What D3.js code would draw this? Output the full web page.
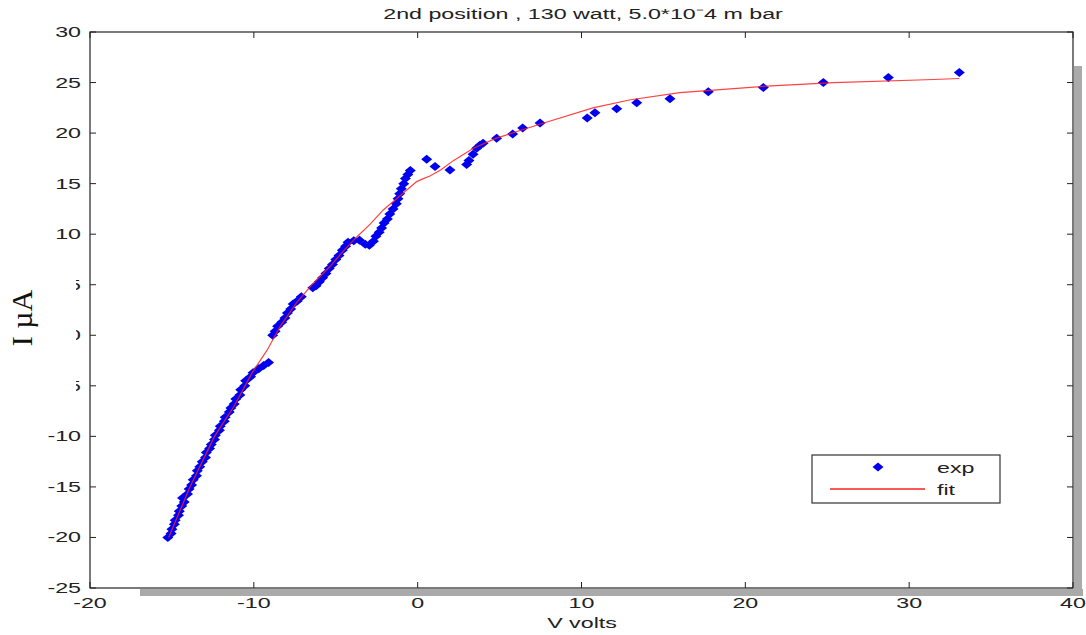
<!DOCTYPE html>
<html>
<head>
<meta charset="utf-8">
<script src="https://cdn.jsdelivr.net/npm/d3@7"></script>
<style>
  body { margin: 0; background: #fff; }
  text { font-family: "Liberation Sans", Arial, sans-serif; }
</style>
</head>
<body>
<div id="chart"></div>
<script>
const expV = [
  -15.25, -15.05, -15.0, -14.85, -14.8, -14.6, -14.55, -14.4, -14.25, -14.35,
  -14.05, -13.95, -13.8, -13.7, -13.5, -13.45, -13.3, -13.15, -12.95, -12.9,
  -12.7, -12.6, -12.4, -12.35, -12.1, -12.05, -11.8, -11.75, -11.5, -11.4,
  -11.2, -11.1, -10.85, -10.8, -10.55, -10.5, -10.2, -10.05, -9.7, -9.4, -9.1,
  -8.85, -8.7, -8.55, -8.3, -8.1, -7.95, -7.75, -7.6, -7.35, -7.1,
  -6.4, -6.2, -6.0, -5.8, -5.6, -5.4, -5.2, -5.0, -4.8, -4.6, -4.4, -4.25, -3.9, -3.55,
  -3.2, -2.95, -2.7, -2.55, -2.35, -2.2, -2.05, -1.85, -1.7, -1.5, -1.3, -1.2, -1.1,
  -1.0, -0.85, -0.75, -0.6, -0.45,
  0.55, 1.06, 1.97, 2.99, 3.13, 3.38, 3.6, 3.8, 3.99, 4.82, 5.8, 6.41, 7.47,
  10.35, 10.82, 12.15, 13.37, 15.4, 17.74, 21.1, 24.76, 28.73, 33.06
];
const expI = [
  -20.0, -19.6, -19.2, -18.7, -18.3, -17.8, -17.4, -16.9, -16.5, -16.1,
  -15.7, -15.2, -14.8, -14.3, -13.9, -13.4, -13.0, -12.5, -12.1, -11.6,
  -11.2, -10.8, -10.3, -9.9, -9.4, -9.0, -8.5, -8.1, -7.6, -7.2,
  -6.8, -6.3, -5.9, -5.4, -5.0, -4.5, -4.1, -3.7, -3.3, -3.0, -2.7,
  0.0, 0.4, 0.9, 1.3, 1.7, 2.2, 2.6, 3.1, 3.4, 3.8,
  4.7, 4.9, 5.3, 5.7, 6.1, 6.6, 7.0, 7.5, 7.9, 8.4, 8.8, 9.2, 9.35, 9.4,
  9.0, 8.9, 9.3, 9.8, 10.2, 10.6, 11.1, 11.5, 12.0, 12.5, 13.0, 13.5, 14.0,
  14.5, 15.0, 15.5, 15.9, 16.3,
  17.4, 16.7, 16.35, 16.9, 17.3, 17.9, 18.5, 18.8, 19.0, 19.5, 19.9, 20.5, 21.0,
  21.5, 22.0, 22.4, 23.0, 23.4, 24.1, 24.5, 25.0, 25.5, 26.0
];

// fitted curve
const fitV = [-15.2, -13.9, -12.4, -11.2, -10.1, -9.2, -8.4, -7.4, -6.4, -5.35, -4.5, -3.7,
  -2.9, -2.1, -1.0, -0.06, 0.35, 0.75, 1.4, 2.2, 3.4, 4.8, 7.5, 10.7, 13.0, 16.0,
  21.3, 25.4, 31.5, 33.06];
const fitI = [-20.0, -15.0, -10.0, -7.0, -3.7, -1.5, 0.85, 3.2, 5.1, 6.8, 8.4, 9.75,
  11.0, 12.4, 13.9, 15.2, 15.5, 15.75, 16.35, 17.3, 18.5, 19.5, 20.9, 22.5, 23.3, 24.0,
  24.65, 25.0, 25.3, 25.4];

const xTicks = [-20, -10, 0, 10, 20, 30, 40];
const yTicks = [30, 25, 20, 15, 10, 5, 0, -5, -10, -15, -20, -25];

const W = 1086, H = 635;
const L = 90, R = 1073, T = 32, B = 588;
const SX = 1.55; // the source picture is stretched sideways

const svg = d3.select("#chart").append("svg")
  .attr("width", W).attr("height", H);

const x = d3.scaleLinear().domain([-20, 40]).range([L, R]);
const y = d3.scaleLinear().domain([-25, 30]).range([B, T]);

function label(px, py, str, anchor, size) {
  return svg.append("text")
    .attr("transform", `translate(${px},${py}) scale(${SX},1)`)
    .attr("text-anchor", anchor || "start")
    .attr("font-size", size || 15)
    .attr("fill", "#222")
    .text(str);
}

// shadow of the axes box
svg.append("rect").attr("x", R + 1).attr("y", T + 34).attr("width", 8).attr("height", B - T - 26)
  .attr("fill", "#aaa");
svg.append("rect").attr("x", L + 50).attr("y", B + 1).attr("width", R - L - 40).attr("height", 7)
  .attr("fill", "#aaa");

svg.append("rect").attr("x", L).attr("y", T).attr("width", R - L).attr("height", B - T)
  .attr("fill", "#fff");

// axes with inward ticks on all four sides
const tk = 6;
const g = svg.append("g").attr("stroke", "#222").attr("stroke-width", 1);
xTicks.forEach(v => {
  g.append("line").attr("x1", x(v)).attr("x2", x(v)).attr("y1", B).attr("y2", B - tk);
  g.append("line").attr("x1", x(v)).attr("x2", x(v)).attr("y1", T).attr("y2", T + tk);
});
yTicks.forEach(v => {
  g.append("line").attr("x1", L).attr("x2", L + tk).attr("y1", y(v)).attr("y2", y(v));
  g.append("line").attr("x1", R).attr("x2", R - tk).attr("y1", y(v)).attr("y2", y(v));
});
svg.append("rect").attr("x", L).attr("y", T).attr("width", R - L).attr("height", B - T)
  .attr("fill", "none").attr("stroke", "#222").attr("stroke-width", 1.2);

xTicks.forEach(v => label(x(v), B + 20, v, "middle"));
yTicks.forEach(v => label(L - 9, y(v) + 5, v, "end"));

// exp diamonds
const diamond = "M0,-4.5L5.5,0L0,4.5L-5.5,0Z";
svg.selectAll(".pt").data(expI).enter().append("path")
  .attr("d", diamond)
  .attr("transform", (d, i) => `translate(${x(expV[i])},${y(d)})`)
  .attr("fill", "#0000ee");

// fit line, drawn over the points
const line = d3.line().x((d, i) => x(fitV[i])).y(d => y(d));
svg.append("path").attr("d", line(fitI))
  .attr("fill", "none").attr("stroke", "#ff2020").attr("stroke-width", 1.2)
  .attr("stroke-opacity", 0.85);

// legend
const lg = svg.append("g");
lg.append("rect").attr("x", 812).attr("y", 455).attr("width", 188).attr("height", 48)
  .attr("fill", "#fff").attr("stroke", "#333").attr("stroke-width", 1.2);
lg.append("path").attr("d", diamond).attr("transform", "translate(878,467)").attr("fill", "#0000ee");
lg.append("line").attr("x1", 830).attr("x2", 925).attr("y1", 489).attr("y2", 489)
  .attr("stroke", "#ff2020").attr("stroke-width", 1.3);
label(937, 473, "exp");
label(937, 495, "fit");

// title and axis labels
label(583, 19, "2nd position , 130 watt, 5.0*10\u207B4 m bar", "middle");
label(582, 628, "V volts", "middle");

// the y label hides part of the nearby tick labels
svg.append("rect").attr("x", 0).attr("y", 270).attr("width", 76).attr("height", 125).attr("fill", "#fff");
svg.append("text")
  .attr("transform", "translate(32,318) rotate(-90)")
  .attr("text-anchor", "middle")
  .style("font-family", "'Liberation Serif', 'Times New Roman', serif")
  .attr("font-size", 30).attr("fill", "#111")
  .text("I \u00B5A");
</script>
</body>
</html>
